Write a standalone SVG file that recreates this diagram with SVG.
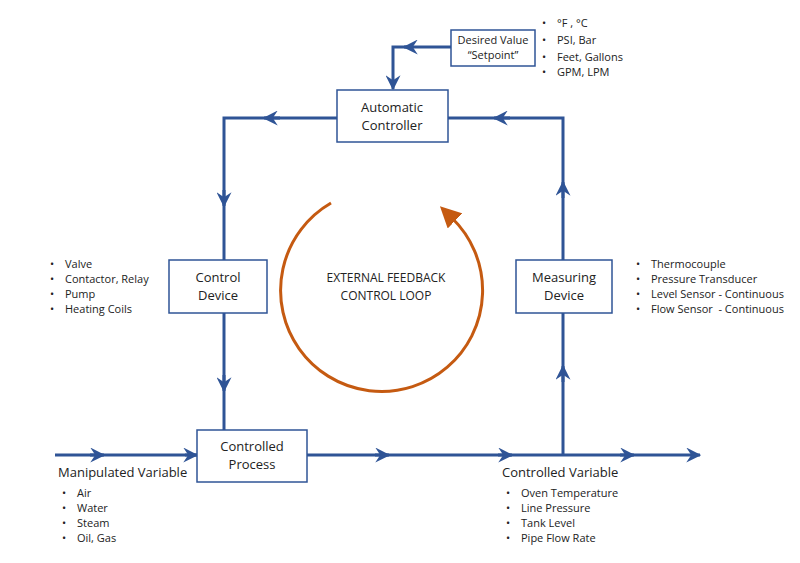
<svg xmlns="http://www.w3.org/2000/svg" width="800" height="563" viewBox="0 0 800 563">
<defs>
<style>
text{font-family:"Open Sans","Liberation Sans",sans-serif;fill:#222}
.b{fill:#fff;stroke:#2f5496;stroke-width:1.5}
.t{font-size:13px;text-anchor:middle}
.s{font-size:11px}
.l{fill:none;stroke:#2f5496;stroke-width:3}
</style>
<marker id="a" viewBox="0 0 12 12" refX="11" refY="6" markerWidth="5" markerHeight="5" markerUnits="strokeWidth" orient="auto"><path d="M0,0 L12,6 L0,12 L4,6z" fill="#2f5496"/></marker>
<marker id="o" viewBox="0 0 10 10" refX="2" refY="5" markerWidth="7" markerHeight="7" markerUnits="strokeWidth" orient="auto"><path d="M0,0 L10,5 L0,10z" fill="#c55a11"/></marker>
</defs>
<g id="connectors">
<path class="l" d="M451,47 H393 V89" marker-end="url(#a)"/>
<path class="l" d="M412,47 H404" marker-end="url(#a)"/>
<path class="l" d="M337,118 H224 V260"/>
<path class="l" d="M280,118 H264" marker-end="url(#a)"/>
<path class="l" d="M224,190 V206" marker-end="url(#a)"/>
<path class="l" d="M224,313 V430"/>
<path class="l" d="M224,375 V391" marker-end="url(#a)"/>
<path class="l" d="M563,455 V118 H448"/>
<path class="l" d="M510,118 H494" marker-end="url(#a)"/>
<path class="l" d="M563,198 V182" marker-end="url(#a)"/>
<path class="l" d="M563,382 V366" marker-end="url(#a)"/>
<path class="l" d="M55,455 H197"/>
<path class="l" d="M90,455 H104" marker-end="url(#a)"/>
<path class="l" d="M185,455 H197" marker-end="url(#a)"/>
<path class="l" d="M307,455 H700" marker-end="url(#a)"/>
<path class="l" d="M375,455 H389" marker-end="url(#a)"/>
<path class="l" d="M498,455 H512" marker-end="url(#a)"/>
<path class="l" d="M620,455 H634" marker-end="url(#a)"/>
<path d="M331,203 A101,101 0 1 0 452,218" fill="none" stroke="#c55a11" stroke-width="3" marker-end="url(#o)"/>
</g>
<g id="setpoint"><rect class="b" x="451" y="30" width="84" height="36"/><text class="t" x="493" y="44" style="font-size:11px">Desired Value</text><text class="t" x="493" y="59" style="font-size:11px">“Setpoint”</text></g>
<g id="controller"><rect class="b" x="337" y="90" width="111" height="52"/><text class="t" x="392" y="112">Automatic</text><text class="t" x="392" y="130">Controller</text></g>
<g id="control-device"><rect class="b" x="169" y="260" width="98" height="53"/><text class="t" x="218" y="282">Control</text><text class="t" x="218" y="300">Device</text></g>
<g id="measuring-device"><rect class="b" x="516" y="260" width="96" height="53"/><text class="t" x="564" y="282">Measuring</text><text class="t" x="564" y="300">Device</text></g>
<g id="process"><rect class="b" x="197" y="430" width="110" height="52"/><text class="t" x="252" y="451">Controlled</text><text class="t" x="252" y="469">Process</text></g>
<g id="loop"><text class="t" x="386" y="282" style="font-size:12px">EXTERNAL FEEDBACK</text><text class="t" x="386" y="300" style="font-size:12px">CONTROL LOOP</text></g>
<g id="units" class="s"><text x="542" y="27" class="s">•</text><text x="557" y="27" class="s">°F , °C</text><text x="542" y="44" class="s">•</text><text x="557" y="44" class="s">PSI, Bar</text><text x="542" y="61" class="s">•</text><text x="557" y="61" class="s">Feet, Gallons</text><text x="542" y="76" class="s">•</text><text x="557" y="76" class="s">GPM, LPM</text></g>
<g id="actuators"><text x="50" y="268" class="s">•</text><text x="65" y="268" class="s">Valve</text><text x="50" y="283" class="s">•</text><text x="65" y="283" class="s">Contactor, Relay</text><text x="50" y="298" class="s">•</text><text x="65" y="298" class="s">Pump</text><text x="50" y="313" class="s">•</text><text x="65" y="313" class="s">Heating Coils</text></g>
<g id="sensors"><text x="636" y="268" class="s">•</text><text x="651" y="268" class="s">Thermocouple</text><text x="636" y="283" class="s">•</text><text x="651" y="283" class="s">Pressure Transducer</text><text x="636" y="298" class="s">•</text><text x="651" y="298" class="s">Level Sensor - Continuous</text><text x="636" y="313" class="s">•</text><text x="651" y="313" class="s" xml:space="preserve">Flow Sensor  - Continuous</text></g>
<g id="manipulated"><text x="58" y="477" style="font-size:13px">Manipulated Variable</text><text x="62" y="497" class="s">•</text><text x="77" y="497" class="s">Air</text><text x="62" y="512" class="s">•</text><text x="77" y="512" class="s">Water</text><text x="62" y="527" class="s">•</text><text x="77" y="527" class="s">Steam</text><text x="62" y="542" class="s">•</text><text x="77" y="542" class="s">Oil, Gas</text></g>
<g id="controlled"><text x="502" y="477" style="font-size:13px">Controlled Variable</text><text x="506" y="497" class="s">•</text><text x="521" y="497" class="s">Oven Temperature</text><text x="506" y="512" class="s">•</text><text x="521" y="512" class="s">Line Pressure</text><text x="506" y="527" class="s">•</text><text x="521" y="527" class="s">Tank Level</text><text x="506" y="542" class="s">•</text><text x="521" y="542" class="s">Pipe Flow Rate</text></g>
</svg>
